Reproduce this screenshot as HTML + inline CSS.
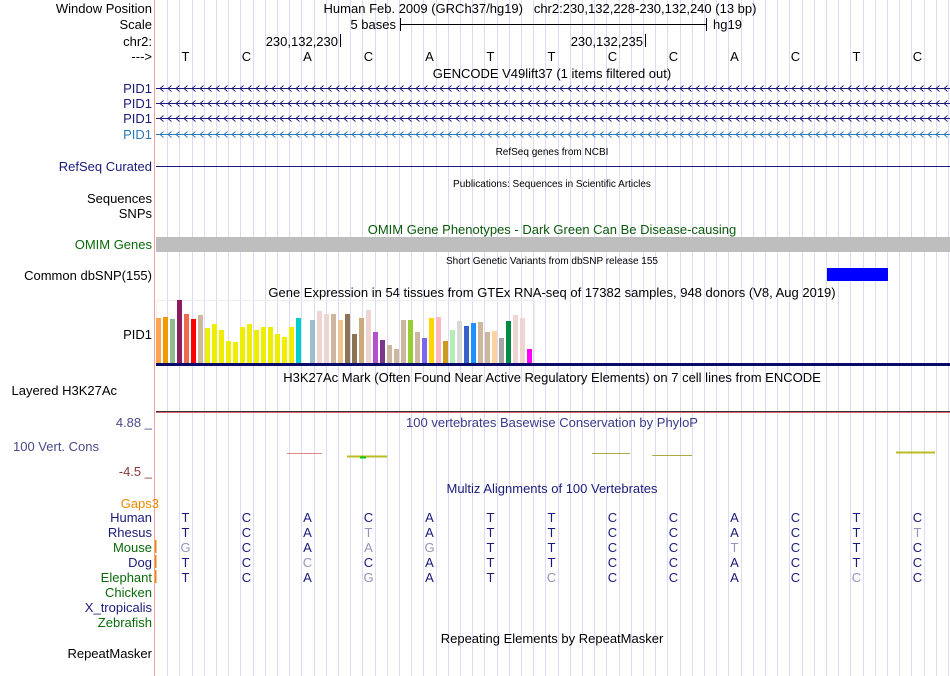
<!DOCTYPE html>
<html><head><meta charset="utf-8">
<style>
html,body{margin:0;padding:0;background:#fff;}
svg{display:block;font-family:"Liberation Sans",sans-serif;}
</style></head>
<body>
<svg id="s" width="950" height="676" viewBox="0 0 950 676" xmlns="http://www.w3.org/2000/svg">
<g id="grid"></g>
<line x1="154.5" y1="0" x2="154.5" y2="676" stroke="#f4a0a0"/>
<g font-size="13" fill="#000" text-anchor="end">
<text x="152" y="13">Window Position</text>
<text x="152" y="29">Scale</text>
<text x="152" y="46">chr2:</text>
<text x="152" y="61">---&gt;</text>
<text x="152" y="93" fill="#1a1a7a">PID1</text>
<text x="152" y="108" fill="#1a1a7a">PID1</text>
<text x="152" y="123" fill="#1a1a7a">PID1</text>
<text x="152" y="139" fill="#2a7ab8">PID1</text>
<text x="152" y="171" fill="#1a1a7a">RefSeq Curated</text>
<text x="152" y="203">Sequences</text>
<text x="152" y="218">SNPs</text>
<text x="152" y="249" fill="#0a6a0a">OMIM Genes</text>
<text x="152" y="280">Common dbSNP(155)</text>
<text x="152" y="339">PID1</text>
<text x="117" y="395">Layered H3K27Ac</text>
<text x="152" y="427" fill="#4a4a8a">4.88 _</text>
<text x="99" y="451" fill="#4a4a8a">100 Vert. Cons</text>
<text x="152" y="476" fill="#8a3a3a">-4.5 _</text>
<text x="159" y="508" fill="#ee8a00">Gaps3</text>
<text x="152" y="522" fill="#1a1a7a">Human</text>
<text x="152" y="537" fill="#1a1a7a">Rhesus</text>
<text x="152" y="552" fill="#0a6a0a">Mouse</text>
<text x="152" y="567" fill="#1a1a7a">Dog</text>
<text x="152" y="582" fill="#0a6a0a">Elephant</text>
<text x="152" y="597" fill="#0a6a0a">Chicken</text>
<text x="152" y="612" fill="#1a1a7a">X_tropicalis</text>
<text x="152" y="627" fill="#0a6a0a">Zebrafish</text>
<text x="152" y="658">RepeatMasker</text>
</g>
<g font-size="13" fill="#000" text-anchor="middle">
<text x="540" y="13">Human Feb. 2009 (GRCh37/hg19)&#160;&#160;&#160;chr2:230,132,228-230,132,240 (13 bp)</text>
<text x="552" y="78">GENCODE V49lift37 (1 items filtered out)</text>
<text x="552" y="155" font-size="10">RefSeq genes from NCBI</text>
<text x="552" y="187" font-size="10">Publications: Sequences in Scientific Articles</text>
<text x="552" y="234" fill="#0a5a0a">OMIM Gene Phenotypes - Dark Green Can Be Disease-causing</text>
<text x="552" y="264" font-size="10">Short Genetic Variants from dbSNP release 155</text>
<text x="552" y="297">Gene Expression in 54 tissues from GTEx RNA-seq of 17382 samples, 948 donors (V8, Aug 2019)</text>
<text x="552" y="382">H3K27Ac Mark (Often Found Near Active Regulatory Elements) on 7 cell lines from ENCODE</text>
<text x="552" y="427" fill="#3a3a8a">100 vertebrates Basewise Conservation by PhyloP</text>
<text x="552" y="493" fill="#1a1a7a">Multiz Alignments of 100 Vertebrates</text>
<text x="552" y="643">Repeating Elements by RepeatMasker</text>
</g>
<g>
<text x="396" y="29" font-size="13" text-anchor="end">5 bases</text>
<line x1="400.5" y1="18" x2="400.5" y2="31" stroke="#000"/>
<line x1="400" y1="24.5" x2="706" y2="24.5" stroke="#000"/>
<line x1="706.5" y1="18" x2="706.5" y2="31" stroke="#000"/>
<text x="713" y="29" font-size="13">hg19</text>
<text x="338" y="46" font-size="13" text-anchor="end">230,132,230</text>
<line x1="340.5" y1="34" x2="340.5" y2="47" stroke="#000"/>
<text x="643" y="46" font-size="13" text-anchor="end">230,132,235</text>
<line x1="645.5" y1="34" x2="645.5" y2="47" stroke="#000"/>
</g>
<g id="bases" font-size="13" text-anchor="middle"></g>
<g id="genes"></g>
<line x1="156" y1="166.5" x2="950" y2="166.5" stroke="#1a1a7a"/>
<rect x="156" y="237" width="794" height="15" fill="#bebebe"/>
<rect x="827" y="268" width="61" height="13" fill="#0000ff"/>
<rect x="156.5" y="300.5" width="378" height="63" fill="none" stroke="#eeeeee"/>
<g id="gtex"></g>
<rect x="156" y="363" width="794" height="3" fill="#0a0a6a"/>
<line x1="156" y1="411.5" x2="950" y2="411.5" stroke="#333"/>
<line x1="156" y1="412.5" x2="950" y2="412.5" stroke="#e06070"/>
<g>
<line x1="287" y1="453.5" x2="322" y2="453.5" stroke="#d88" />
<line x1="347" y1="456.5" x2="387" y2="456.5" stroke="#bb2" stroke-width="2"/>
<line x1="360" y1="457.5" x2="366" y2="457.5" stroke="#0c0" stroke-width="2"/>
<line x1="592" y1="453.5" x2="630" y2="453.5" stroke="#aa4"/>
<line x1="652" y1="455.5" x2="692" y2="455.5" stroke="#aa4"/>
<line x1="896" y1="452.5" x2="935" y2="452.5" stroke="#bb2" stroke-width="2"/>
</g>
<g fill="#ee8a00">
<rect x="155" y="540" width="1.5" height="13"/>
<rect x="155" y="555" width="1.5" height="13"/>
<rect x="155" y="570" width="1.5" height="13"/>
</g>
<g id="align" font-size="13" text-anchor="middle"></g>
</svg>
<script>
var NS="http://www.w3.org/2000/svg";
var refBases=["T","C","A","C","A","T","T","C","C","A","C","T","C"];
var alignRows=["TCACATTCCACTC","TCATATTCCACTT","GCAAGTTCCTCTC","TCCCATTCCACTC","TCAGATCCCACCC"];
var humanRow="TCACATTCCACTC";
var geneRowsY=[88.5,103.5,118.5,134.5];
var geneColors=["#1a1a7a","#1a1a7a","#1a1a7a","#2a7ab8"];
var gtexHeights=[45,46,44,63,49,44,48,35,39,33,22,21,36,39,33,36,36,29,26,36,45,0,43,52,49,49,43,49,29,45,53,31,23,18,14,43,43,31,25,45,46,22,33,42,37,40,41,31,32,25,42,48,45,14];
var gtexColors=["#ffa54f","#ee9a00","#8fbc8f","#8b1c62","#ee6a50","#ff0000","#cdb79e","#eeee00","#eeee00","#eeee00","#eeee00","#eeee00","#eeee00","#eeee00","#eeee00","#eeee00","#eeee00","#eeee00","#eeee00","#eeee00","#00cdcd","#eeee00","#9ac0cd","#eed5d2","#eed5d2","#cdb79e","#eec591","#8b7355","#8b7355","#cdaa7d","#eed5d2","#b452cd","#7a378b","#cdb79e","#cdb79e","#cdb79e","#9acd32","#cdb79e","#7a67ee","#ffd700","#ffb6c1","#cd9b1d","#b4eeb4","#d9d9d9","#3a5fcd","#1e90ff","#cdb79e","#cdb79e","#ffd39b","#a6a6a6","#008b45","#eed5d2","#eed5d2","#ff00ff"];
var X0=155, BW=61, GTX0=156, GPITCH=7, GBASE=363;
function bx(i){return X0+BW*(i+0.5);}
function gx(i){return GTX0+GPITCH*i;}
function gy(v){return GBASE-v;}
var grid=document.getElementById('grid');
for(var k=1;k*12.2+X0<950;k++){
  var l=document.createElementNS(NS,'line');
  
  
  var x=Math.round(X0+k*12.2)+0.5;
  l.setAttribute('x1',x);l.setAttribute('x2',x);l.setAttribute('y1',0);l.setAttribute('y2',676);
  l.setAttribute('stroke','#dcdaf6');grid.appendChild(l);
}
var genes=document.getElementById('genes');
geneRowsY.forEach(function(y,j){
  var d='M156,'+y+' L950,'+y;
  for(var cx=160;cx<948;cx+=8){ d+=' M'+(cx+3.5)+','+(y-3)+' L'+cx+','+y+' L'+(cx+3.5)+','+(y+3); }
  var p=document.createElementNS(NS,'path');
  
  
  p.setAttribute('d',d);p.setAttribute('fill','none');p.setAttribute('stroke',geneColors[j]);p.setAttribute('stroke-width','0.9');
  genes.appendChild(p);
});
var bg=document.getElementById('bases');
refBases.forEach(function(b,i){
  var t=document.createElementNS(NS,'text');
  
  
  t.setAttribute('x',bx(i));t.setAttribute('y',61);t.textContent=b;bg.appendChild(t);
});
var gg=document.getElementById('gtex');
gtexHeights.forEach(function(h,i){
  if(h<=0)return;
  var r=document.createElementNS(NS,'rect');
  
  
  r.setAttribute('x',gx(i));r.setAttribute('y',gy(h));r.setAttribute('width',5);r.setAttribute('height',h);
  r.setAttribute('fill',gtexColors[i]);gg.appendChild(r);
});
var ag=document.getElementById('align');
alignRows.forEach(function(row,j){
  for(var i=0;i<row.length;i++){
    var t=document.createElementNS(NS,'text');
    
    
    t.setAttribute('x',bx(i));t.setAttribute('y',522+15*j);
    t.setAttribute('fill',(j>0&&row[i]!==humanRow[i])?'#9494b8':'#1a1a7a');
    t.textContent=row[i];ag.appendChild(t);
  }
});
</script>
</body></html>
